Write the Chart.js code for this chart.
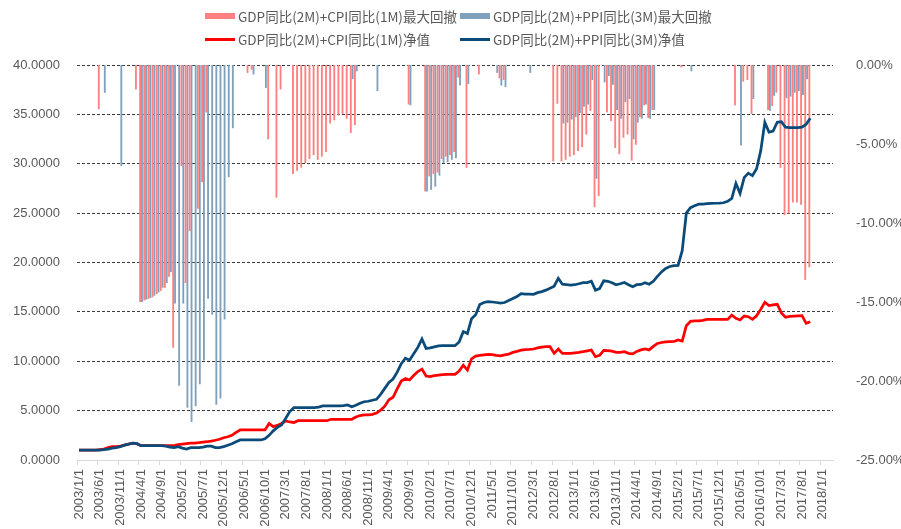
<!DOCTYPE html>
<html>
<head>
<meta charset="utf-8">
<script src="https://cdn.jsdelivr.net/npm/chart.js@4.4.1/dist/chart.umd.min.js"></script>
<style>
  html, body { margin: 0; padding: 0; background: #fff; }
  #wrap { position: relative; width: 901px; height: 529px; }
  #legend { position: absolute; left: 0; top: 0; width: 901px; height: 50px;
            font-family: "Noto Sans CJK SC", sans-serif; font-size: 13.5px; color: #595959; }
  .item { position: absolute; display: flex; align-items: center; height: 16px; white-space: nowrap; }
  .sw { width: 30px; margin-right: 3px; }
</style>
</head>
<body>
<div id="wrap">
  <canvas id="chart"></canvas>
  <div id="legend"></div>
</div>
<script>
// monthly categories 2003/1/1 .. 2018/3/1, every 5th one is labelled
const months = [];
for (let y = 2003; y <= 2018; y++) {
  for (let m = 1; m <= 12; m++) {
    if (y === 2018 && m > 3) break;
    months.push(y + '/' + m + '/1');
  }
}

const names = [
  'GDP同比(2M)+CPI同比(1M)最大回撤',
  'GDP同比(2M)+PPI同比(3M)最大回撤',
  'GDP同比(2M)+CPI同比(1M)净值',
  'GDP同比(2M)+PPI同比(3M)净值'
];

// net value, GDP+CPI (red line)
const netCPI = [
  1.00, 1.00, 1.00, 1.00, 1.00, 1.05, 1.10, 1.25, 1.35, 1.35,
  1.40, 1.50, 1.60, 1.70, 1.65, 1.45, 1.45, 1.45, 1.45, 1.45,
  1.45, 1.45, 1.45, 1.45, 1.55, 1.60, 1.65, 1.70, 1.72, 1.75,
  1.80, 1.85, 1.92, 2.00, 2.10, 2.25, 2.35, 2.50, 2.80, 3.04,
  3.04, 3.04, 3.04, 3.04, 3.04, 3.04, 3.70, 3.38, 3.50, 3.70,
  3.95, 3.85, 3.80, 3.98, 3.98, 3.98, 3.98, 3.98, 3.98, 3.98,
  3.98, 4.12, 4.12, 4.12, 4.12, 4.12, 4.12, 4.35, 4.50, 4.56,
  4.58, 4.62, 4.75, 5.05, 5.45, 6.10, 6.35, 7.20, 8.00, 8.25,
  8.10, 8.55, 8.95, 9.21, 8.50, 8.45, 8.54, 8.60, 8.65, 8.67,
  8.67, 8.67, 9.00, 9.60, 9.10, 10.25, 10.52, 10.60, 10.65, 10.70,
  10.68, 10.60, 10.55, 10.65, 10.72, 10.90, 11.00, 11.12, 11.17, 11.20,
  11.24, 11.35, 11.42, 11.47, 11.47, 10.80, 11.24, 10.80, 10.80, 10.80,
  10.85, 10.90, 10.97, 11.05, 11.14, 10.46, 10.60, 11.10, 11.08, 11.02,
  10.90, 10.90, 10.97, 10.80, 10.75, 11.00, 11.15, 11.24, 11.15, 11.50,
  11.80, 11.90, 11.95, 11.98, 12.00, 12.15, 12.04, 13.60, 14.05, 14.08,
  14.10, 14.15, 14.24, 14.24, 14.24, 14.24, 14.24, 14.24, 14.68, 14.35,
  14.18, 14.58, 14.51, 14.24, 14.60, 15.25, 15.97, 15.63, 15.70, 15.77,
  14.90, 14.45, 14.55, 14.58, 14.60, 14.62, 13.84, 14.00
];

// net value, GDP+PPI (dark blue line)
const netPPI = [
  1.00, 1.00, 1.00, 1.00, 1.00, 1.00, 1.05, 1.10, 1.20, 1.25,
  1.35, 1.50, 1.60, 1.70, 1.65, 1.45, 1.45, 1.45, 1.45, 1.45,
  1.45, 1.40, 1.30, 1.25, 1.35, 1.20, 1.10, 1.25, 1.25, 1.25,
  1.30, 1.40, 1.40, 1.25, 1.25, 1.35, 1.50, 1.65, 1.85, 2.03,
  2.03, 2.03, 2.03, 2.03, 2.03, 2.15, 2.50, 2.95, 3.30, 3.55,
  4.20, 4.90, 5.30, 5.30, 5.30, 5.30, 5.30, 5.30, 5.35, 5.47,
  5.47, 5.47, 5.47, 5.47, 5.50, 5.57, 5.40, 5.55, 5.75, 5.90,
  5.95, 6.05, 6.15, 6.65, 7.25, 7.85, 8.20, 8.90, 9.75, 10.30,
  10.10, 10.75, 11.40, 12.25, 11.30, 11.35, 11.45, 11.55, 11.57, 11.57,
  11.57, 11.57, 11.95, 13.00, 12.80, 14.30, 14.70, 15.75, 15.95, 16.03,
  16.00, 15.95, 15.88, 15.95, 16.15, 16.35, 16.55, 16.85, 16.80, 16.80,
  16.78, 16.95, 17.05, 17.20, 17.40, 17.60, 18.40, 17.80, 17.75, 17.70,
  17.75, 17.85, 17.95, 17.96, 18.10, 17.20, 17.36, 18.15, 18.10, 17.95,
  17.75, 17.85, 17.98, 17.75, 17.55, 17.75, 17.78, 17.96, 17.80, 18.10,
  18.60, 19.05, 19.40, 19.60, 19.68, 19.70, 21.20, 25.00, 25.55, 25.75,
  25.90, 25.92, 25.96, 25.98, 26.00, 26.02, 26.05, 26.20, 26.50, 28.00,
  27.00, 28.60, 29.05, 28.80, 29.50, 31.30, 34.20, 33.20, 33.30, 34.20,
  34.26, 33.70, 33.65, 33.65, 33.65, 33.70, 34.00, 34.60
];

// max drawdown in %, GDP+CPI (pink bars)
const ddCPI = [
  null, null, null, null, null, -2.8, null, null, null, null,
  null, null, null, null, -1.55, -15.0, -14.9, -14.8, -14.7, -14.5,
  -14.3, -14.1, -13.4, -17.9, null, -6.4, -13.8, -10.5, null, -9.1,
  -7.4, -3.0, null, null, null, null, null, null, null, null,
  null, -0.5, -0.3, null, null, null, -4.7, null, -8.4, -1.55,
  null, null, -6.9, -6.7, -6.5, -6.2, -5.95, -5.7, -6.0, -5.8,
  -5.5, -3.7, -3.5, -3.2, -3.1, -3.4, -4.3, -3.8, null, null,
  null, null, null, null, null, null, null, null, null, null,
  -2.5, null, null, null, -8.0, -7.05, -6.9, -6.8, -5.95, -5.8,
  -5.7, -5.5, -0.8, null, -6.5, null, null, -0.6, null, null,
  null, null, -0.85, -0.95, null, null, null, null, null, null,
  null, null, null, null, null, -6.1, -2.45, -6.1, -6.0, -5.8,
  -5.7, -5.45, -5.2, -4.4, -2.9, -9.0, -8.3, null, -3.0, -3.55,
  -5.25, -5.65, -4.6, -4.4, -6.05, -5.05, -3.3, -2.55, -3.35, -2.85,
  null, null, null, null, null, null, -0.15, null, null, null,
  null, null, null, null, null, null, null, null, null, -2.55,
  null, -1.05, -0.95, -3.1, null, null, null, -2.85, -2.6, -1.75,
  -6.5, -9.5, -9.4, -8.7, -8.7, -8.85, -13.6, -12.8
];

// max drawdown in %, GDP+PPI (grey-blue bars)
const ddPPI = [
  null, null, null, null, null, null, -1.76, null, null, null,
  -6.4, null, null, null, null, -15.0, -14.85, -14.75, -14.6, -14.4,
  -14.1, -13.8, -13.1, -15.1, -20.3, -15.1, -21.7, -22.6, -21.6, -20.2,
  -18.7, -14.8, -15.8, -21.5, -21.1, -16.1, -7.1, -4.0, null, null,
  null, null, -0.6, null, null, -1.45, null, null, null, null,
  null, null, null, null, null, null, null, null, null, null,
  null, null, null, null, null, null, -0.9, -0.4, null, null,
  null, null, -1.65, null, null, null, null, null, null, null,
  -2.55, null, null, null, -8.0, -7.9, -7.7, -7.0, -6.2, -6.15,
  -6.0, -5.9, -1.3, null, -1.2, null, null, null, null, null,
  null, -0.5, -1.3, -1.4, null, null, null, null, null, -0.5,
  null, null, null, null, null, null, null, -3.7, -3.65, -3.45,
  -3.3, -3.05, -2.65, -2.5, -0.95, -7.2, null, -1.1, -0.7, -1.25,
  -2.85, -3.4, -2.35, -2.15, -4.7, -3.65, -3.4, -2.5, -3.4, -2.85,
  null, null, null, null, null, null, null, null, -0.4, null,
  null, null, null, null, null, null, null, null, null, null,
  -5.1, null, null, -2.15, null, null, null, -2.9, -1.95, null,
  null, -2.1, -2.0, -1.75, -1.65, -1.9, -0.9, null
];

const colors = ['#ff8080', '#7fa1bc', '#ff0000', '#0b4b7a'];

Chart.defaults.font.family = '"Liberation Sans", Arial, sans-serif';
Chart.defaults.color = '#595959';

const ctx = document.getElementById('chart').getContext('2d');
new Chart(ctx, {
  type: 'bar',
  data: {
    labels: months,
    datasets: [
      { type: 'line', label: names[3], data: netPPI, yAxisID: 'y', borderColor: colors[3],
        borderWidth: 2.75, pointRadius: 0, tension: 0, order: 0 },
      { type: 'line', label: names[2], data: netCPI, yAxisID: 'y', borderColor: colors[2],
        borderWidth: 2.75, pointRadius: 0, tension: 0, order: 0 },
      { label: names[0], data: ddCPI, yAxisID: 'y1', backgroundColor: colors[0],
        categoryPercentage: 0.9, barPercentage: 1.0, order: 1 },
      { label: names[1], data: ddPPI, yAxisID: 'y1', backgroundColor: colors[1],
        categoryPercentage: 0.9, barPercentage: 1.0, order: 1 }
    ]
  },
  options: {
    responsive: true,
    maintainAspectRatio: false,
    animation: false,
    layout: { padding: { top: 65, left: 0, right: 0, bottom: 0 } },
    plugins: {
      legend: { display: false },
      tooltip: { enabled: false }
    },
    scales: {
      x: {
        offset: true,
        grid: {
          offset: true,
          drawOnChartArea: false,
          tickLength: 5,
          color: c => (c.index % 5 === 0 ? '#d9d9d9' : 'rgba(0,0,0,0)')
        },
        border: { color: '#d9d9d9' },
        ticks: {
          autoSkip: false,
          maxRotation: 90,
          minRotation: 90,
          padding: 4,
          font: { size: 13 },
          callback: (v, i) => (i % 5 === 0 ? months[i] : '')
        },
        afterFit: s => { s.height = 69; }
      },
      y: {
        position: 'left',
        min: 0,
        max: 40,
        ticks: { stepSize: 5, padding: 17, font: { size: 13 }, callback: v => v.toFixed(4) },
        grid: {
          drawTicks: false,
          color: c => (c.tick.value === 0 ? 'rgba(0,0,0,0)' : '#3a3a3a')
        },
        border: { display: false, dash: [3, 2] },
        afterFit: s => { s.width = 77; }
      },
      y1: {
        position: 'right',
        min: -25,
        max: 0,
        ticks: { stepSize: 5, padding: 15, font: { size: 13 }, callback: v => v.toFixed(2) + '%' },
        grid: { display: false },
        border: { display: false },
        afterFit: s => { s.width = 68; }
      }
    }
  }
});

// two-row legend like the original
const legendItems = [
  { text: names[0], color: colors[0], h: 6, left: 205, top: 8 },
  { text: names[1], color: colors[1], h: 6, left: 460, top: 8 },
  { text: names[2], color: colors[2], h: 3, left: 205, top: 31 },
  { text: names[3], color: colors[3], h: 3, left: 460, top: 31 }
];
const legend = document.getElementById('legend');
legendItems.forEach(it => {
  const d = document.createElement('div');
  d.className = 'item';
  d.style.left = it.left + 'px';
  d.style.top = it.top + 'px';
  const sw = document.createElement('span');
  sw.className = 'sw';
  sw.style.height = it.h + 'px';
  sw.style.background = it.color;
  const t = document.createElement('span');
  t.textContent = it.text;
  d.appendChild(sw);
  d.appendChild(t);
  legend.appendChild(d);
});
</script>
</body>
</html>
